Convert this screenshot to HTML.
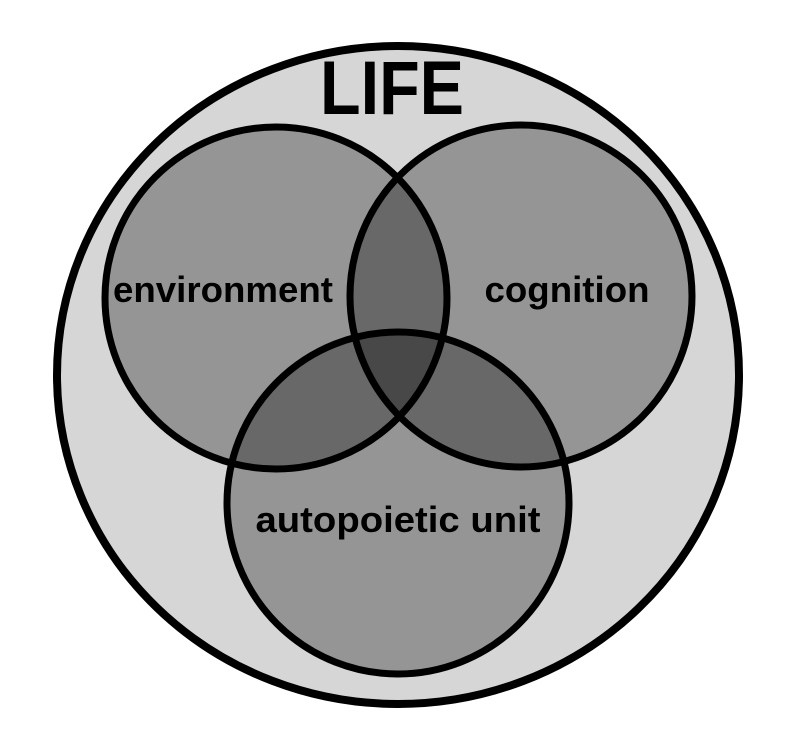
<!DOCTYPE html>
<html><head><style>body{margin:0;background:#fff}</style></head><body>
<svg width="792" height="738" viewBox="0 0 792 738" xmlns="http://www.w3.org/2000/svg">
<ellipse cx="398" cy="375" rx="341" ry="329" fill="#d6d6d6" stroke="#000" stroke-width="8"/>
<g fill="#000" fill-opacity="0.3">
<circle cx="276" cy="298" r="171"/>
<circle cx="521" cy="296" r="171"/>
<circle cx="398" cy="503" r="171"/>
</g>
<g fill="none" stroke="#000" stroke-width="7">
<circle cx="276" cy="298" r="171"/>
<circle cx="521" cy="296" r="171"/>
<circle cx="398" cy="503" r="171"/>
</g>
<g font-family="Liberation Sans, sans-serif" font-weight="bold" fill="#000" text-anchor="middle">
<text x="392" y="114" font-size="76" textLength="144" lengthAdjust="spacingAndGlyphs">LIFE</text>
<text x="223" y="302" font-size="36" textLength="220" lengthAdjust="spacingAndGlyphs">environment</text>
<text x="567" y="302" font-size="36" textLength="165" lengthAdjust="spacingAndGlyphs">cognition</text>
<text x="398" y="532" font-size="36" textLength="285" lengthAdjust="spacingAndGlyphs">autopoietic unit</text>
</g>
</svg>
</body></html>
